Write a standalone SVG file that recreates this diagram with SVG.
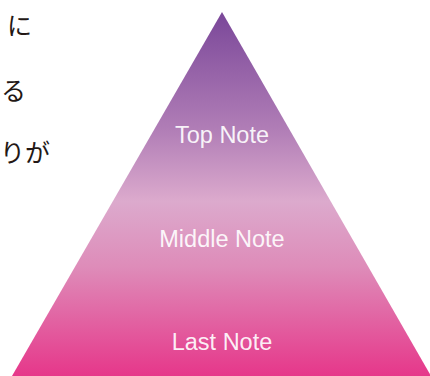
<svg xmlns="http://www.w3.org/2000/svg" width="430" height="376" viewBox="0 0 430 376">
<style>
.jp{font-family:"Noto Sans CJK JP",sans-serif;font-size:25px;fill:#231815;font-weight:400}
.lbl{font-family:"Liberation Sans",Roboto,sans-serif;font-size:23.5px;fill:#ffffff;fill-opacity:0.92;text-anchor:middle;font-weight:300}
</style>
<defs>
<linearGradient id="g" x1="0" y1="12" x2="0" y2="376" gradientUnits="userSpaceOnUse">
<stop offset="0" stop-color="#7a4799"/>
<stop offset="0.32" stop-color="#b07db6"/>
<stop offset="0.52" stop-color="#dcaacd"/>
<stop offset="0.7" stop-color="#de8cb9"/>
<stop offset="1" stop-color="#e6378a"/>
</linearGradient>
</defs>
<g id="text">
<text class="jp" x="7" y="35">に</text>
<text class="jp" x="1" y="100">る</text>
<text class="jp" x="0" y="162">りが</text>
</g>
<g id="pyramid">
<polygon points="222,12 12,376 431,376" fill="url(#g)"/>
<text class="lbl" x="222" y="143">Top Note</text>
<text class="lbl" x="222" y="247">Middle Note</text>
<text class="lbl" x="222" y="350">Last Note</text>
</g>
</svg>
